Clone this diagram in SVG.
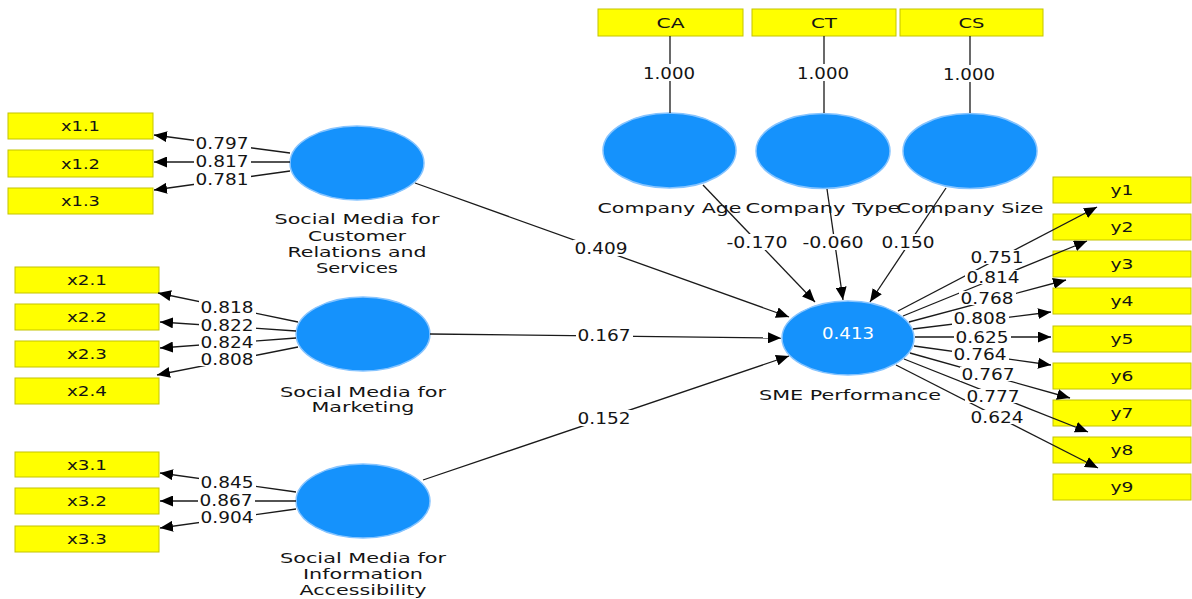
<svg xmlns="http://www.w3.org/2000/svg" width="1192" height="599" viewBox="0 0 1192 599">
<style>
text{font-family:"DejaVu Sans","Verdana",sans-serif;fill:#141414;text-anchor:middle}
.box{fill:#ffff00;stroke:#c4c400;stroke-width:1}
.lv{fill:#1592fc;stroke:#86c4ff;stroke-width:1.5}
.bl{font-size:14px}
.nm{font-size:14px}
.num{font-size:15px}
.bg{fill:#fff}
.ln{stroke:#1a1a1a;stroke-width:1.3;fill:none}
.ar{marker-end:url(#ah)}
</style>
<defs>
<marker id="ah" markerUnits="userSpaceOnUse" markerWidth="13" markerHeight="11" refX="13" refY="5.5" orient="auto">
<path d="M0,0 L13,5.5 L0,11 z" fill="#000"/>
</marker>
</defs>
<rect width="1192" height="599" fill="#fff"/>

<g id="x1.1"><rect class="box" x="8" y="113" width="145" height="26"/><text class="bl" x="80.5" y="131" textLength="39" lengthAdjust="spacingAndGlyphs">x1.1</text></g>
<g id="x1.2"><rect class="box" x="8" y="150" width="145" height="27"/><text class="bl" x="80.5" y="168.5" textLength="39" lengthAdjust="spacingAndGlyphs">x1.2</text></g>
<g id="x1.3"><rect class="box" x="8" y="188" width="145" height="26"/><text class="bl" x="80.5" y="206" textLength="39" lengthAdjust="spacingAndGlyphs">x1.3</text></g>
<g id="x2.1"><rect class="box" x="15" y="267" width="144" height="26"/><text class="bl" x="87" y="285" textLength="40" lengthAdjust="spacingAndGlyphs">x2.1</text></g>
<g id="x2.2"><rect class="box" x="15" y="304" width="144" height="26"/><text class="bl" x="87" y="322" textLength="40" lengthAdjust="spacingAndGlyphs">x2.2</text></g>
<g id="x2.3"><rect class="box" x="15" y="341" width="144" height="26"/><text class="bl" x="87" y="359" textLength="40" lengthAdjust="spacingAndGlyphs">x2.3</text></g>
<g id="x2.4"><rect class="box" x="15" y="378" width="144" height="26"/><text class="bl" x="87" y="396" textLength="40" lengthAdjust="spacingAndGlyphs">x2.4</text></g>
<g id="x3.1"><rect class="box" x="15" y="452" width="144" height="25"/><text class="bl" x="87" y="469.5" textLength="40" lengthAdjust="spacingAndGlyphs">x3.1</text></g>
<g id="x3.2"><rect class="box" x="15" y="488" width="144" height="26"/><text class="bl" x="87" y="506" textLength="40" lengthAdjust="spacingAndGlyphs">x3.2</text></g>
<g id="x3.3"><rect class="box" x="15" y="526" width="144" height="26"/><text class="bl" x="87" y="544" textLength="40" lengthAdjust="spacingAndGlyphs">x3.3</text></g>

<g id="CA"><rect class="box" x="598" y="9" width="145" height="27"/><text class="bl" x="670.5" y="27.5" textLength="28" lengthAdjust="spacingAndGlyphs">CA</text></g>
<g id="CT"><rect class="box" x="752" y="9" width="144" height="27"/><text class="bl" x="824" y="27.5" textLength="26" lengthAdjust="spacingAndGlyphs">CT</text></g>
<g id="CS"><rect class="box" x="900" y="9" width="143" height="27"/><text class="bl" x="971.5" y="27.5" textLength="26" lengthAdjust="spacingAndGlyphs">CS</text></g>

<g id="y1"><rect class="box" x="1053" y="177" width="138" height="26"/><text class="bl" x="1122" y="195" textLength="23" lengthAdjust="spacingAndGlyphs">y1</text></g>
<g id="y2"><rect class="box" x="1053" y="214" width="138" height="26"/><text class="bl" x="1122" y="232" textLength="23" lengthAdjust="spacingAndGlyphs">y2</text></g>
<g id="y3"><rect class="box" x="1053" y="251" width="138" height="26"/><text class="bl" x="1122" y="269" textLength="23" lengthAdjust="spacingAndGlyphs">y3</text></g>
<g id="y4"><rect class="box" x="1053" y="288" width="138" height="26"/><text class="bl" x="1122" y="306" textLength="23" lengthAdjust="spacingAndGlyphs">y4</text></g>
<g id="y5"><rect class="box" x="1053" y="326" width="138" height="26"/><text class="bl" x="1122" y="344" textLength="23" lengthAdjust="spacingAndGlyphs">y5</text></g>
<g id="y6"><rect class="box" x="1053" y="363" width="138" height="26"/><text class="bl" x="1122" y="381" textLength="23" lengthAdjust="spacingAndGlyphs">y6</text></g>
<g id="y7"><rect class="box" x="1053" y="400" width="138" height="26"/><text class="bl" x="1122" y="418" textLength="23" lengthAdjust="spacingAndGlyphs">y7</text></g>
<g id="y8"><rect class="box" x="1053" y="437" width="138" height="26"/><text class="bl" x="1122" y="455" textLength="23" lengthAdjust="spacingAndGlyphs">y8</text></g>
<g id="y9"><rect class="box" x="1053" y="474" width="138" height="26"/><text class="bl" x="1122" y="492" textLength="23" lengthAdjust="spacingAndGlyphs">y9</text></g>

<g id="smcr"><ellipse class="lv" cx="357" cy="163" rx="67" ry="37"/>
<text class="nm" x="357" y="224" textLength="165" lengthAdjust="spacingAndGlyphs">Social Media for</text>
<text class="nm" x="357" y="241" textLength="98" lengthAdjust="spacingAndGlyphs">Customer</text>
<text class="nm" x="357" y="257" textLength="139" lengthAdjust="spacingAndGlyphs">Relations and</text>
<text class="nm" x="357" y="273" textLength="82" lengthAdjust="spacingAndGlyphs">Services</text></g>
<g id="smm"><ellipse class="lv" cx="363" cy="334" rx="67" ry="37"/>
<text class="nm" x="363" y="397" textLength="166" lengthAdjust="spacingAndGlyphs">Social Media for</text>
<text class="nm" x="363" y="412" textLength="103" lengthAdjust="spacingAndGlyphs">Marketing</text></g>
<g id="smia"><ellipse class="lv" cx="363" cy="501" rx="67" ry="37"/>
<text class="nm" x="363" y="563" textLength="166" lengthAdjust="spacingAndGlyphs">Social Media for</text>
<text class="nm" x="363" y="579" textLength="120" lengthAdjust="spacingAndGlyphs">Information</text>
<text class="nm" x="363" y="595" textLength="127" lengthAdjust="spacingAndGlyphs">Accessibility</text></g>
<g id="age"><ellipse class="lv" cx="669.5" cy="150.5" rx="66.5" ry="37.5"/><text class="nm" x="669.5" y="213" textLength="144" lengthAdjust="spacingAndGlyphs">Company Age</text></g>
<g id="type"><ellipse class="lv" cx="823" cy="151" rx="67" ry="37.5"/><text class="nm" x="823" y="213" textLength="155" lengthAdjust="spacingAndGlyphs">Company Type</text></g>
<g id="size"><ellipse class="lv" cx="970" cy="151" rx="67" ry="37.5"/><text class="nm" x="970" y="213" textLength="147" lengthAdjust="spacingAndGlyphs">Company Size</text></g>
<g id="sme"><ellipse class="lv" cx="848" cy="338" rx="66" ry="37"/>
<text x="848" y="338.5" style="font-size:15px;fill:#fff" textLength="52" lengthAdjust="spacingAndGlyphs">0.413</text>
<text class="nm" x="850" y="400" textLength="182" lengthAdjust="spacingAndGlyphs">SME Performance</text></g>

<g id="connectors">
<line class="ln" x1="670" y1="36" x2="670" y2="113"/>
<line class="ln" x1="824" y1="36" x2="824" y2="113"/>
<line class="ln" x1="970" y1="36" x2="970" y2="113"/>
<line class="ln ar" x1="290" y1="153" x2="154" y2="135"/>
<line class="ln ar" x1="290" y1="162" x2="154" y2="162"/>
<line class="ln ar" x1="290" y1="171" x2="154" y2="190"/>
<line class="ln ar" x1="298" y1="322" x2="158" y2="293"/>
<line class="ln ar" x1="296" y1="331" x2="160" y2="322"/>
<line class="ln ar" x1="296" y1="338" x2="160" y2="348"/>
<line class="ln ar" x1="298" y1="347" x2="157" y2="375"/>
<line class="ln ar" x1="296" y1="492" x2="160" y2="473"/>
<line class="ln ar" x1="296" y1="501" x2="160" y2="501"/>
<line class="ln ar" x1="296" y1="509" x2="160" y2="528"/>
<line class="ln ar" x1="415" y1="183" x2="789" y2="317"/>
<line class="ln ar" x1="430" y1="334" x2="781" y2="338"/>
<line class="ln ar" x1="423" y1="480" x2="789" y2="356"/>
<line class="ln ar" x1="703" y1="185" x2="815" y2="302"/>
<line class="ln ar" x1="827" y1="189" x2="843" y2="300"/>
<line class="ln ar" x1="946" y1="188" x2="870" y2="302"/>
<line class="ln ar" x1="898" y1="311" x2="1097" y2="207"/>
<line class="ln ar" x1="903" y1="316" x2="1087" y2="241"/>
<line class="ln ar" x1="909" y1="322" x2="1066" y2="280"/>
<line class="ln ar" x1="913" y1="329" x2="1051" y2="312"/>
<line class="ln ar" x1="915" y1="337" x2="1051" y2="337"/>
<line class="ln ar" x1="914" y1="346" x2="1051" y2="365"/>
<line class="ln ar" x1="910" y1="353" x2="1070" y2="398"/>
<line class="ln ar" x1="904" y1="359" x2="1088" y2="432"/>
<line class="ln ar" x1="896" y1="365" x2="1098" y2="468"/>

<rect class="bg" x="641" y="64" width="56" height="17"/>
<rect class="bg" x="795" y="64" width="56" height="17"/>
<rect class="bg" x="941" y="65" width="56" height="17"/>
<rect class="bg" x="194" y="136" width="57" height="14"/>
<rect class="bg" x="194" y="154" width="57" height="14"/>
<rect class="bg" x="194" y="172" width="57" height="14"/>
<rect class="bg" x="199" y="300" width="57" height="14"/>
<rect class="bg" x="199" y="318" width="57" height="14"/>
<rect class="bg" x="199" y="335" width="57" height="14"/>
<rect class="bg" x="199" y="352" width="57" height="14"/>
<rect class="bg" x="199" y="475" width="57" height="14"/>
<rect class="bg" x="198" y="493" width="57" height="14"/>
<rect class="bg" x="199" y="510" width="57" height="14"/>
<rect class="bg" x="573" y="240" width="57" height="16"/>
<rect class="bg" x="576" y="327" width="57" height="16"/>
<rect class="bg" x="576" y="410" width="57" height="16"/>
<rect class="bg" x="725" y="234" width="65" height="16"/>
<rect class="bg" x="801" y="234" width="65" height="16"/>
<rect class="bg" x="880" y="234" width="57" height="16"/>
<rect class="bg" x="969" y="250" width="57" height="14"/>
<rect class="bg" x="965" y="270" width="57" height="14"/>
<rect class="bg" x="959" y="291" width="57" height="14"/>
<rect class="bg" x="952" y="311" width="57" height="14"/>
<rect class="bg" x="954" y="330" width="57" height="14"/>
<rect class="bg" x="952" y="347" width="57" height="14"/>
<rect class="bg" x="960" y="367" width="57" height="14"/>
<rect class="bg" x="965" y="389" width="57" height="14"/>
<rect class="bg" x="969" y="410" width="57" height="14"/>

<text class="num" x="669" y="78.5" textLength="52" lengthAdjust="spacingAndGlyphs">1.000</text>
<text class="num" x="823" y="78.5" textLength="52" lengthAdjust="spacingAndGlyphs">1.000</text>
<text class="num" x="969" y="79.5" textLength="52" lengthAdjust="spacingAndGlyphs">1.000</text>
<text class="num" x="222" y="148.5" textLength="53" lengthAdjust="spacingAndGlyphs">0.797</text>
<text class="num" x="222" y="166.5" textLength="53" lengthAdjust="spacingAndGlyphs">0.817</text>
<text class="num" x="222" y="184.5" textLength="53" lengthAdjust="spacingAndGlyphs">0.781</text>
<text class="num" x="227" y="312.5" textLength="53" lengthAdjust="spacingAndGlyphs">0.818</text>
<text class="num" x="227" y="330.5" textLength="53" lengthAdjust="spacingAndGlyphs">0.822</text>
<text class="num" x="227" y="347.5" textLength="53" lengthAdjust="spacingAndGlyphs">0.824</text>
<text class="num" x="227" y="364.5" textLength="53" lengthAdjust="spacingAndGlyphs">0.808</text>
<text class="num" x="227" y="487.5" textLength="53" lengthAdjust="spacingAndGlyphs">0.845</text>
<text class="num" x="226" y="505.5" textLength="53" lengthAdjust="spacingAndGlyphs">0.867</text>
<text class="num" x="227" y="522.5" textLength="53" lengthAdjust="spacingAndGlyphs">0.904</text>
<text class="num" x="601" y="253.5" textLength="53" lengthAdjust="spacingAndGlyphs">0.409</text>
<text class="num" x="604" y="340.5" textLength="53" lengthAdjust="spacingAndGlyphs">0.167</text>
<text class="num" x="604" y="423.5" textLength="53" lengthAdjust="spacingAndGlyphs">0.152</text>
<text class="num" x="757" y="247.5" textLength="61" lengthAdjust="spacingAndGlyphs">-0.170</text>
<text class="num" x="833" y="247.5" textLength="61" lengthAdjust="spacingAndGlyphs">-0.060</text>
<text class="num" x="908" y="247.5" textLength="53" lengthAdjust="spacingAndGlyphs">0.150</text>
<text class="num" x="997" y="262.5" textLength="53" lengthAdjust="spacingAndGlyphs">0.751</text>
<text class="num" x="993" y="282.5" textLength="53" lengthAdjust="spacingAndGlyphs">0.814</text>
<text class="num" x="987" y="303.5" textLength="53" lengthAdjust="spacingAndGlyphs">0.768</text>
<text class="num" x="980" y="323.5" textLength="53" lengthAdjust="spacingAndGlyphs">0.808</text>
<text class="num" x="982" y="342.5" textLength="53" lengthAdjust="spacingAndGlyphs">0.625</text>
<text class="num" x="980" y="359.5" textLength="53" lengthAdjust="spacingAndGlyphs">0.764</text>
<text class="num" x="988" y="379.5" textLength="53" lengthAdjust="spacingAndGlyphs">0.767</text>
<text class="num" x="993" y="401.5" textLength="53" lengthAdjust="spacingAndGlyphs">0.777</text>
<text class="num" x="997" y="422.5" textLength="53" lengthAdjust="spacingAndGlyphs">0.624</text>
</g>
</svg>
